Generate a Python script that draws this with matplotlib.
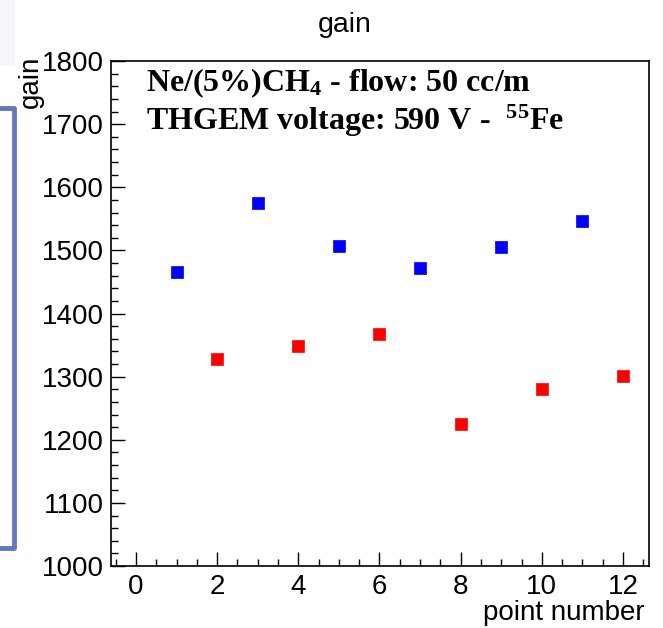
import matplotlib
matplotlib.use("Agg")
import matplotlib.pyplot as plt
from matplotlib.ticker import MultipleLocator
from matplotlib.patches import Rectangle
from matplotlib.lines import Line2D

plt.rcParams['font.family'] = ['Liberation Sans', 'DejaVu Sans']
plt.rcParams['mathtext.fontset'] = 'custom'
plt.rcParams['mathtext.rm'] = 'Liberation Serif:bold'
plt.rcParams['mathtext.it'] = 'Liberation Serif:bold'
plt.rcParams['mathtext.bf'] = 'Liberation Serif:bold'

blue_x = [1, 3, 5, 7, 9, 11]
blue_y = [1466, 1575, 1507, 1472, 1505, 1546]
red_x = [2, 4, 6, 8, 10, 12]
red_y = [1328, 1349, 1367, 1225, 1280, 1301]

fig = plt.figure(figsize=(6.63, 6.28), dpi=100)
W, H = 663, 628
ax = fig.add_axes([111 / W, 1 - 566 / H, (649 - 111) / W, (566 - 61) / H])

ax.plot(blue_x, blue_y, ls='none', marker='s', ms=9, mew=0.5, color='#0000ff', mec='#0000ff')
ax.plot(red_x, red_y, ls='none', marker='s', ms=9, mew=0.5, color='#ff0000', mec='#ff0000')

ax.set_xlim(-0.615, 12.64)
ax.set_ylim(1000, 1800)
ax.xaxis.set_major_locator(MultipleLocator(2))
ax.xaxis.set_minor_locator(MultipleLocator(0.5))
ax.yaxis.set_major_locator(MultipleLocator(100))
ax.yaxis.set_minor_locator(MultipleLocator(20))
ax.tick_params(which='both', direction='in', top=False, right=False, width=1, color='black')
ax.tick_params(which='major', length=10, labelsize=20)
ax.tick_params(axis='y', which='major', pad=5)
ax.tick_params(axis='x', which='major', pad=6)
ax.tick_params(which='minor', length=5)
for s in ax.spines.values():
    s.set_linewidth(1.2)

fig.text(345 / W, 1 - 32 / H, 'gain', ha='center', va='baseline', fontsize=20.5)
fig.text(645 / W, 1 - 620 / H, 'point number', ha='right', va='baseline', fontsize=20)
fig.text(44 / W, 1 - 56 / H, 'gain', ha='right', va='top', rotation=90, fontsize=20)

fig.text(146 / W, 1 - 91 / H, r'Ne/(5%)CH$_{4}$ - flow: 50 cc/m',
         fontsize=23, family='Liberation Serif', weight='bold', ha='left', va='baseline')
fig.text(146 / W, 1 - 130 / H, r'THGEM voltage: 590 V -  $^{55}$Fe',
         fontsize=23, family='Liberation Serif', weight='bold', ha='left', va='baseline')

# background slide fragments at left
fig.patches.append(Rectangle((0, 1 - 66 / H), 15 / W, 66 / H, transform=fig.transFigure,
                             facecolor='#f6f7fa', edgecolor='none', zorder=0))
fig.lines.append(Line2D([0, 14 / W, 14 / W, 0], [1 - 108 / H, 1 - 108 / H, 1 - 548 / H, 1 - 548 / H],
                        transform=fig.transFigure, color='#6677bb', lw=3.5))

fig.savefig('out.png', dpi=100)
